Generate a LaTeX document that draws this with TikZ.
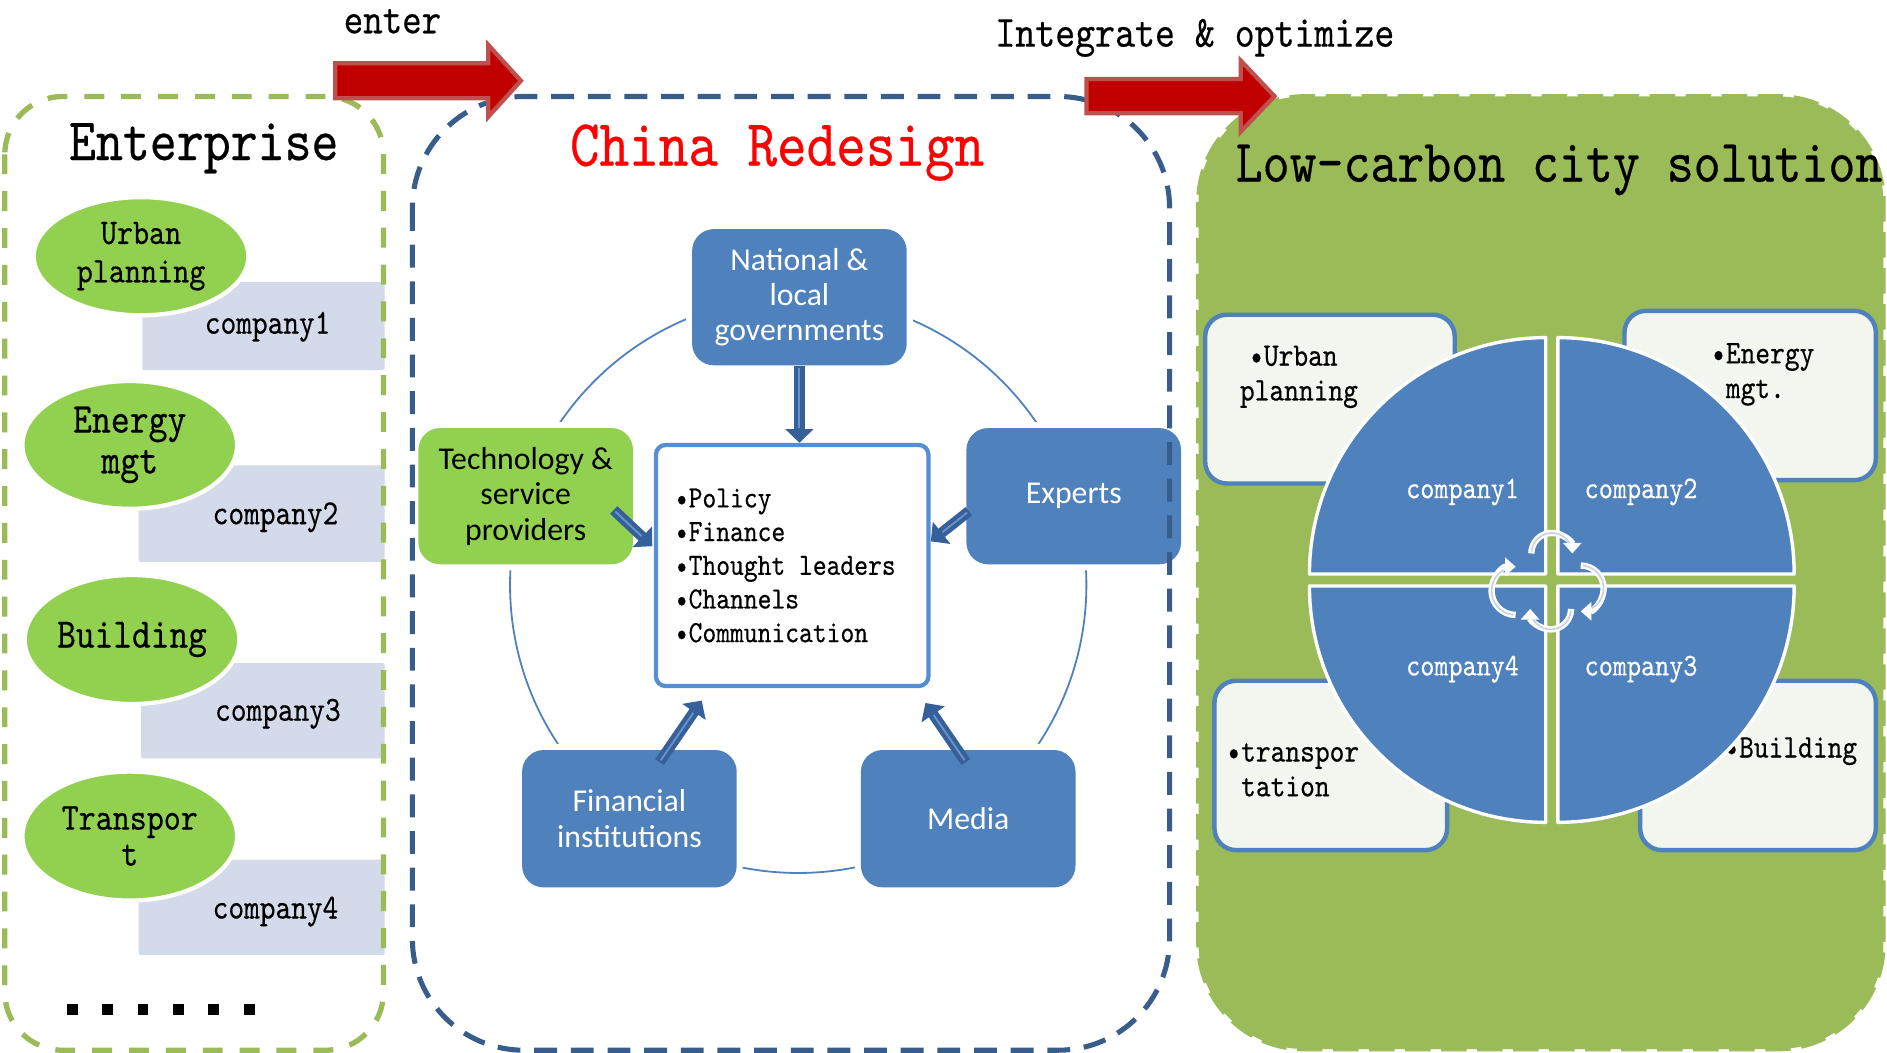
\documentclass[tikz,border=0pt]{standalone}
\usepackage{fontspec}
\setsansfont{Carlito}
\newfontfamily\monof{lmmono10-regular.otf}[FakeStretch=0.85,FakeBold=0.35]
\newcommand{\myfs}[2]{\monof\fontsize{#1}{#2}\selectfont}
\usetikzlibrary{shapes.geometric,arrows.meta}
\definecolor{boxblue}{HTML}{4F81BD}
\definecolor{techgreen}{HTML}{92D050}
\definecolor{panelgreen}{HTML}{9BBB59}
\definecolor{grayblue}{HTML}{D3DAEA}
\definecolor{paleg}{HTML}{F3F6EE}
\definecolor{listblue}{HTML}{558ED5}
\definecolor{dashblue}{HTML}{385D8A}
\definecolor{arrdark}{HTML}{36609A}
\definecolor{arrlight}{HTML}{6A92CA}
\definecolor{redfill}{HTML}{C00000}
\definecolor{redline}{HTML}{C0504D}
\definecolor{cycinner}{HTML}{C9D3E6}
\begin{document}
\begin{tikzpicture}[x=0.02cm,y=-0.02cm,
  bluebox/.style={rectangle, rounded corners=0.36cm, fill=boxblue, minimum width=3.56cm, minimum height=2.26cm,
    text=white, font=\sffamily\fontsize{15}{16.7}\selectfont, align=center, inner sep=0pt,
    preaction={draw=white, line width=5.7pt}},
  ell/.style={ellipse, fill=techgreen, draw=white, line width=2pt, inner sep=0pt, align=center, minimum width=3.56cm},
  graybox/.style={rectangle, fill=grayblue, inner sep=0pt, rounded corners=1pt},
  smallbox/.style={rectangle, rounded corners=0.36cm, fill=paleg, draw=boxblue, line width=2.1pt, inner sep=0pt},
  listbox/.style={rectangle, rounded corners=0.16cm, fill=white, draw=listblue, line width=2pt, inner sep=0pt,
    minimum width=4.52cm, minimum height=4.0cm, align=left, font=\myfs{14.6}{15.9}},
  bigarr/.style={draw=arrdark, line width=5pt, -{Triangle[length=6.5pt,width=13pt]}},
  arrin/.style={draw=arrlight, line width=0.9pt, shorten >=7pt, shorten <=1pt},
  sector/.style={fill=boxblue, draw=white, line width=1.6pt, line join=round},
  cyc/.style={draw=white, line width=3pt, -{Triangle[length=5pt,width=8.5pt]}},
  cycin/.style={draw=cycinner, line width=0.8pt},
  redarr/.style={fill=redfill, draw=redline, line width=2pt, line join=miter},
  ]
\useasboundingbox (0,0) rectangle (1565,873.3);

% ---------------- left panel ----------------
\node[graybox, minimum width=4.02cm, minimum height=1.46cm] (g1) at (218.5,270.5) {};
\node[graybox, minimum width=4.08cm, minimum height=1.60cm] (g2) at (217,426) {};
\node[graybox, minimum width=4.04cm, minimum height=1.58cm] (g3) at (218,589.5) {};
\node[graybox, minimum width=4.08cm, minimum height=1.58cm] (g4) at (217,752.5) {};
\node[font=\myfs{16.6}{18}] (c1) at (222,271) {company1};
\node[font=\myfs{16.6}{18}] (c2) at (228.5,429) {company2};
\node[font=\myfs{16.6}{18}] (c3) at (230.5,592) {company3};
\node[font=\myfs{16.6}{18}] (c4) at (228.5,756) {company4};

\node[ell, minimum height=1.96cm, font=\myfs{17}{18.1}] (urb) at (117,212.5) {Urban\\planning};
\node[ell, minimum height=2.12cm, font=\myfs{20}{19.3}] (ene) at (107.6,369) {Energy\\mgt};
\node[ell, minimum height=2.14cm, font=\myfs{19.8}{20}] (bld) at (109.5,530.4) {Building};
\node[ell, minimum height=2.14cm, font=\myfs{18}{17}] (trn) at (107.6,693.4) {Transpor\\t};

\foreach \i in {0,...,5} \fill (55.3+29.4*\i,833) rectangle ++(9,9);

\draw[panelgreen, line width=2.5pt, dash pattern=on 9.4pt off 8pt, rounded corners=0.96cm]
  (4,80) rectangle (318,871);
\node[anchor=base, font=\myfs{28.5}{30}] (enttitle) at (169,132.7) {Enterprise};

% ---------------- middle panel ----------------
\draw[boxblue, line width=0.85pt] (662,485) circle[radius=239];
\node[bluebox] (gov) at (663,246.5) {National \&\\local\\governments};
\node[bluebox, fill=techgreen, text=black] (tech) at (436,411.5) {Technology \&\\service\\providers};
\node[bluebox] (exp) at (890.5,411.5) {Experts};
\node[bluebox, minimum height=2.28cm] (fin) at (522,679) {Financial\\institutions};
\node[bluebox, minimum height=2.28cm] (med) at (803,679) {Media};
\node[listbox] (list) at (657,469)
  {\llap{\textbullet}Policy\\\llap{\textbullet}Finance\\\llap{\textbullet}Thought leaders\\\llap{\textbullet}Channels\\\llap{\textbullet}Communication};

\coordinate (a2s) at (509,423); \coordinate (a2e) at (541,453);
\coordinate (a3s) at (803.5,424); \coordinate (a3e) at (772,449);
\coordinate (a4s) at (547,632); \coordinate (a4e) at (582,581);
\coordinate (a5s) at (801,632); \coordinate (a5e) at (767.5,583);
\draw[bigarr] (gov.south) -- (gov.south |- list.north);
\draw[arrin] (gov.south) -- (gov.south |- list.north);
\draw[bigarr] (a2s) -- (a2e); \draw[arrin] (a2s) -- (a2e);
\draw[bigarr] (a3s) -- (a3e); \draw[arrin] (a3s) -- (a3e);
\draw[bigarr] (a4s) -- (a4e); \draw[arrin] (a4s) -- (a4e);
\draw[bigarr] (a5s) -- (a5e); \draw[arrin] (a5s) -- (a5e);

\draw[dashblue, line width=2.4pt, dash pattern=on 10.8pt off 6.5pt, rounded corners=1.85cm]
  (342,80) rectangle (970,871);
\node[anchor=base, text=red, font=\myfs{31.3}{33}] (crtitle) at (644.5,137.4) {China Redesign};

% ---------------- right panel ----------------
\fill[panelgreen, rounded corners=1.75cm] (994,80) rectangle (1562,870);
\draw[panelgreen, line width=2.2pt, dash pattern=on 12pt off 5pt, rounded corners=1.75cm]
  (994,80) rectangle (1562,870);
\node[anchor=base, font=\myfs{28.5}{30}] (lctitle) at (1293,150.6) {Low-carbon city solution};

\node[smallbox, minimum width=4.14cm, minimum height=2.8cm] (b1) at (1103,331) {};
\node[smallbox, minimum width=4.17cm, minimum height=2.81cm] (b2) at (1451.5,328) {};
\node[smallbox, minimum width=3.86cm, minimum height=2.81cm] (b3) at (1103.7,634.8) {};
\node[smallbox, minimum width=3.91cm, minimum height=2.81cm] (b4) at (1458,634.8) {};
\node[anchor=west, align=left, font=\myfs{15.6}{16.4}, inner sep=0pt] (t1) at (1028,312.5)
  {\hspace*{11.3pt}\llap{\textbullet}Urban\\planning};
\node[anchor=west, align=left, font=\myfs{15.6}{16.4}, inner sep=0pt] (t2) at (1431,310.5)
  {\llap{\textbullet}Energy\\mgt.};
\node[anchor=west, align=left, font=\myfs{15.6}{16.4}, inner sep=0pt] (t3) at (1029,638.5)
  {\llap{\textbullet}transpor\\tation};
\node[anchor=west, align=left, font=\myfs{15.6}{16.4}, inner sep=0pt] (t4) at (1442,623)
  {\llap{\textbullet}Building};

\draw[sector] (1282,476) -- ++(-196,0) arc[start angle=180,end angle=270,radius=196] -- cycle;
\draw[sector] (1292,476) -- ++(0,-196) arc[start angle=270,end angle=360,radius=196] -- cycle;
\draw[sector] (1292,486) -- ++(196,0) arc[start angle=0,end angle=90,radius=196] -- cycle;
\draw[sector] (1282,486) -- ++(0,196) arc[start angle=90,end angle=180,radius=196] -- cycle;
\node[text=white, font=\myfs{14.9}{16}] (s1) at (1213,408) {company1};
\node[text=white, font=\myfs{14.9}{16}] (s2) at (1361,408) {company2};
\node[text=white, font=\myfs{14.9}{16}] (s4) at (1213,555) {company4};
\node[text=white, font=\myfs{14.9}{16}] (s3) at (1361,555) {company3};

\draw[cyc] (1287,459) ++(180:17) arc[start angle=180,end angle=360,radius=17];
\draw[cyc] (1311,488) ++(270:19) arc[start angle=270,end angle=450,radius=19];
\draw[cyc] (1286,505) ++(0:17) arc[start angle=0,end angle=180,radius=17];
\draw[cyc] (1257,490) ++(90:20) arc[start angle=90,end angle=270,radius=20];
\draw[cycin] (1287,459) ++(185:17) arc[start angle=185,end angle=330,radius=17];
\draw[cycin] (1311,488) ++(275:19) arc[start angle=275,end angle=420,radius=19];
\draw[cycin] (1286,505) ++(5:17) arc[start angle=5,end angle=150,radius=17];
\draw[cycin] (1257,490) ++(95:20) arc[start angle=95,end angle=240,radius=20];

% ---------------- red arrows and labels ----------------
\draw[redarr] (278,52.5) -- (405,52.5) -- (405,37.3) -- (432,67) -- (405,96.8) -- (405,81.5) -- (278,81.5) -- cycle;
\draw[redarr] (901,65.5) -- (1029,65.5) -- (1029,50.3) -- (1057,79.8) -- (1029,109.2) -- (1029,94) -- (901,94) -- cycle;
\node[anchor=base, font=\myfs{20.6}{22}] (enterlbl) at (325.5,27.6) {enter};
\node[anchor=base, font=\myfs{21.1}{22}] (intlbl) at (991,38.7) {Integrate \& optimize};
\end{tikzpicture}
\end{document}
